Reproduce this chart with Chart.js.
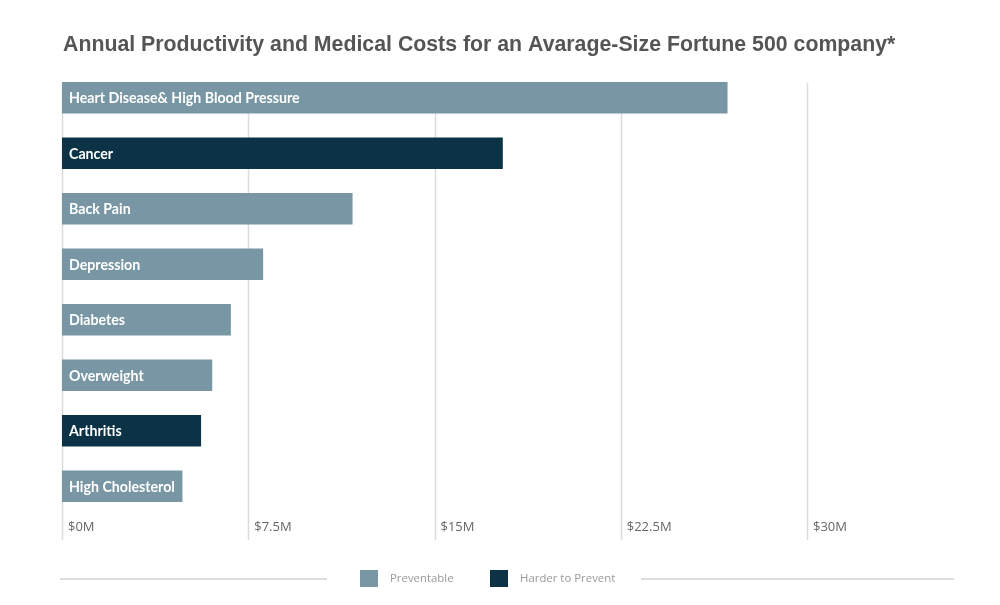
<!DOCTYPE html>
<html>
<head>
<meta charset="utf-8">
<script src="https://cdn.jsdelivr.net/npm/chart.js@4.4.1/dist/chart.umd.min.js"></script>
<style>
  html, body { margin: 0; padding: 0; background: #fff; }
  #wrap { width: 1000px; height: 605px; }
</style>
</head>
<body>
<div id="wrap"><canvas id="costChart" width="1000" height="605"></canvas></div>
<script>
const titleText = 'Annual Productivity and Medical Costs for an Avarage-Size Fortune 500 company*';
const categories = ['Heart Disease& High Blood Pressure', 'Cancer', 'Back Pain', 'Depression',
    'Diabetes', 'Overweight', 'Arthritis', 'High Cholesterol'];
// $ millions, null where the condition belongs to the other group
const preventable = [26.8, null, 11.7, 8.1, 6.8, 6.05, null, 4.85];
const harderToPrevent = [null, 17.75, null, null, null, null, 5.6, null];
const tickValues = [0, 7.5, 15, 22.5, 30];
const tickLabels = ['$0M', '$7.5M', '$15M', '$22.5M', '$30M'];

const lightColor = '#7896a3';
const darkColor = '#0b3345';

// gridlines, tick labels, bar labels, title and legend
const decor = {
    id: 'decor',
    beforeDatasetsDraw(chart) {
        const ctx = chart.ctx;
        const x = chart.scales.x;
        ctx.save();
        ctx.strokeStyle = '#dcdcdc';
        ctx.lineWidth = 1.5;
        tickValues.forEach(v => {
            const px = Math.round(x.getPixelForValue(v)) + 0.5;
            ctx.beginPath();
            ctx.moveTo(px, 83);
            ctx.lineTo(px, 540);
            ctx.stroke();
        });
        ctx.fillStyle = '#666';
        ctx.font = '13px "Open Sans"';
        ctx.textBaseline = 'middle';
        ctx.textAlign = 'left';
        tickValues.forEach((v, i) => {
            ctx.fillText(tickLabels[i], x.getPixelForValue(v) + 6, 527);
        });
        ctx.restore();
    },
    afterDatasetsDraw(chart) {
        const ctx = chart.ctx;
        const x = chart.scales.x;
        const y = chart.scales.y;
        ctx.save();
        ctx.fillStyle = '#fff';
        ctx.font = 'bold 14.2px Lato';
        ctx.textBaseline = 'middle';
        ctx.textAlign = 'left';
        categories.forEach((c, i) => {
            ctx.fillText(c, x.getPixelForValue(0) + 7, y.getPixelForValue(i) + 1);
        });

        // title
        ctx.fillStyle = '#555';
        ctx.font = 'bold 21.3px "Liberation Sans"';
        ctx.fillText(titleText, 63, 45);

        // legend
        ctx.strokeStyle = '#dddddd';
        ctx.lineWidth = 2;
        ctx.beginPath();
        ctx.moveTo(60, 579); ctx.lineTo(327, 579);
        ctx.moveTo(641, 579); ctx.lineTo(954, 579);
        ctx.stroke();
        ctx.font = '11.4px "Open Sans"';
        const items = [[360, 390], [490, 520]];
        chart.data.datasets.forEach((ds, i) => {
            ctx.fillStyle = ds.backgroundColor;
            ctx.fillRect(items[i][0], 570, 18, 17);
            ctx.fillStyle = '#999';
            ctx.fillText(ds.label, items[i][1], 579);
        });
        ctx.restore();
    }
};

new Chart(document.getElementById('costChart'), {
    type: 'bar',
    data: {
        labels: categories,
        datasets: [
            { label: 'Preventable', data: preventable, backgroundColor: lightColor },
            { label: 'Harder to Prevent', data: harderToPrevent, backgroundColor: darkColor }
        ]
    },
    options: {
        indexAxis: 'y',
        responsive: false,
        animation: false,
        layout: { padding: { left: 62, right: 193, top: 70, bottom: 91 } },
        datasets: { bar: { grouped: false, barPercentage: 0.57, categoryPercentage: 1 } },
        plugins: {
            legend: { display: false },
            title: { display: false },
            tooltip: { enabled: false }
        },
        scales: {
            x: { type: 'linear', min: 0, max: 30, display: false },
            y: { display: false }
        }
    },
    plugins: [decor]
});
</script>
</body>
</html>
